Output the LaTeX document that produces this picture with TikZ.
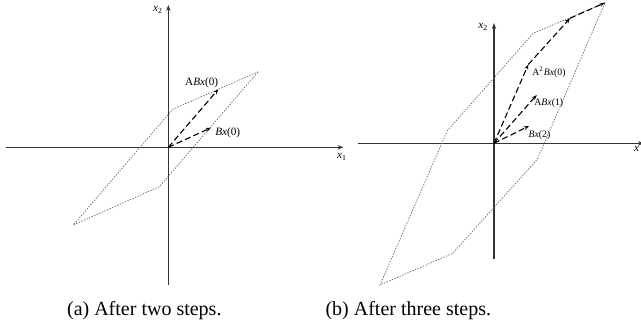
\documentclass[tikz,border=0pt]{standalone}
\usepackage{fontspec}
\setmainfont{Liberation Serif}
\usetikzlibrary{arrows.meta}
\newcommand{\vx}{\textit{x}}
\newcommand{\vB}{\textit{B}}
\begin{document}
\begin{tikzpicture}[x=0.5pt,y=-0.5pt,
  axis/.style={draw=black!80,line width=0.6pt,-{Stealth[length=3pt,width=2.2pt]}},
  reach/.style={draw=black!60,line width=0.35pt,dash pattern=on 0.7pt off 0.7pt},
  vec/.style={draw=black,line width=0.55pt,dash pattern=on 3pt off 1.6pt,-{Stealth[length=2.6pt,width=2pt,open]}},
  lbl/.style={inner sep=0pt,font=\fontsize{5.6}{6.5}\selectfont},
  slbl/.style={inner sep=0pt,font=\fontsize{4.9}{5.8}\selectfont},
  captext/.style={inner sep=0pt,font=\fontsize{10}{12}\selectfont}]
\useasboundingbox (0,0) rectangle (641,331);
% ---------- left panel ----------
\coordinate (O1) at (168.3,147.3);
\coordinate (X1a) at (6,147.3);
\coordinate (X1b) at (343.5,147.3);
\coordinate (Y1a) at (168.3,285);
\coordinate (Y1b) at (168.3,5);
\draw[axis] (X1a) -- (X1b);
\draw[axis] (Y1a) -- (Y1b);
\node[lbl] (lx1) at (342,157) {\vx\textsubscript{1}};
\node[lbl] (ly1) at (158,10) {\vx\textsubscript{2}};
\coordinate (P1) at (258.3,71.7);
\coordinate (P2) at (172.7,109.3);
\coordinate (P3) at (73.3,225);
\coordinate (P4) at (159.3,186.7);
\draw[reach] (P1) -- (P2) -- (P3) -- (P4) -- cycle;
\coordinate (B1) at (211,127.7);
\coordinate (AB1) at (218.3,89.3);
\draw[vec] (O1) -- (AB1);
\draw[vec] (O1) -- (B1);
\node[lbl] (lAB1) at (201.7,82.5) {A\vB\vx(0)};
\node[lbl] (lB1) at (227.7,132.7) {\vB\vx(0)};
% ---------- right panel ----------
\coordinate (O2) at (494,143.3);
\coordinate (X2a) at (358.3,143.3);
\coordinate (X2b) at (644,143.3);
\coordinate (Y2a) at (494,259.3);
\coordinate (Y2b) at (494,23);
\draw[axis] (X2a) -- (X2b);
\draw[axis] (Y2a) -- (Y2b);
\node[lbl] (lx2) at (636.5,148.5) {\vx};
\node[lbl] (ly2) at (483.3,27.3) {\vx\textsubscript{2}};
\coordinate (Q1) at (605,2.7);
\coordinate (Q2) at (533.3,33.3);
\coordinate (Q3) at (447.3,130.7);
\coordinate (Q4) at (380,285);
\coordinate (Q5) at (452.7,253.3);
\coordinate (Q6) at (537.3,159.3);
\draw[reach] (Q1) -- (Q2) -- (Q3) -- (Q4) -- (Q5) -- (Q6) -- cycle;
\coordinate (A2B) at (528.3,64.5);
\coordinate (AB2) at (536.7,95);
\coordinate (B2) at (529,126);
\coordinate (S2) at (570,18.3);
\draw[vec] (O2) -- (A2B);
\draw[vec] (O2) -- (AB2);
\draw[vec] (O2) -- (B2);
\draw[vec] (A2B) -- (S2);
\draw[vec] (S2) -- (Q1);
\node[slbl] (lA2B) at (549,72.7) {A\textsuperscript{2}\vB\vx(0)};
\node[slbl] (lAB2) at (548.8,103.3) {A\vB\vx(1)};
\node[slbl] (lB2) at (539.5,135) {\vB\vx(2)};
% ---------- captions ----------
\node[captext] (ca) at (144.3,311) {(a) After two steps.};
\node[captext] (cb) at (408.3,311) {(b) After three steps.};
\end{tikzpicture}
\end{document}
